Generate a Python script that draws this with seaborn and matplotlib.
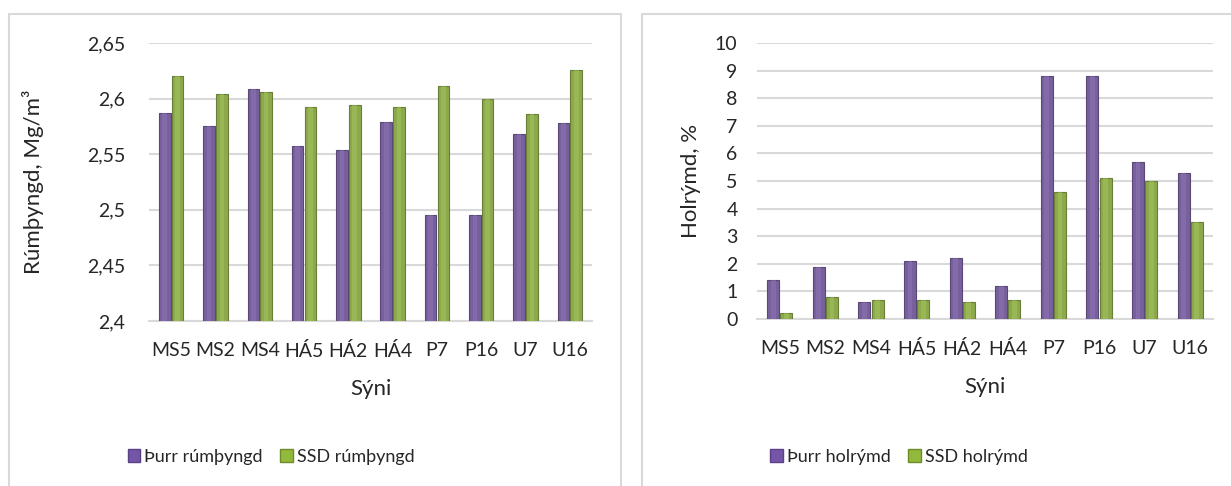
import numpy as np
import pandas as pd
import seaborn as sns
import matplotlib.pyplot as plt
from matplotlib.patches import Rectangle
from matplotlib.ticker import FixedLocator, FuncFormatter

# Samples and measured values
samples = ["MS5", "MS2", "MS4", "HÁ5", "HÁ2", "HÁ4", "P7", "P16", "U7", "U16"]
dry_density = [2.587, 2.575, 2.609, 2.557, 2.554, 2.579, 2.495, 2.495, 2.568, 2.578]
ssd_density = [2.620, 2.604, 2.606, 2.592, 2.594, 2.592, 2.611, 2.600, 2.586, 2.626]
dry_voids = [1.4, 1.9, 0.6, 2.1, 2.2, 1.2, 8.8, 8.8, 5.7, 5.3]
ssd_voids = [0.2, 0.8, 0.7, 0.7, 0.6, 0.7, 4.6, 5.1, 5.0, 3.5]

density_series = ["Þurr rúmþyngd", "SSD rúmþyngd"]
voids_series = ["Þurr holrýmd", "SSD holrýmd"]

density_ticks = [2.4, 2.45, 2.5, 2.55, 2.6, 2.65]
voids_ticks = list(range(0, 11))

PURPLE = "#7556A6"
GREEN = "#92B83C"
GRID = "#D9D9D9"
TEXT = "#262626"

sns.set_theme(style="white")
plt.rcParams["font.family"] = ["Lato", "DejaVu Sans"]

density_df = pd.DataFrame({
    "Sýni": samples * 2,
    "value": dry_density + ssd_density,
    "series": [density_series[0]] * len(samples) + [density_series[1]] * len(samples),
})
voids_df = pd.DataFrame({
    "Sýni": samples * 2,
    "value": dry_voids + ssd_voids,
    "series": [voids_series[0]] * len(samples) + [voids_series[1]] * len(samples),
})

fig = plt.figure(figsize=(12.31, 4.86), dpi=100)

# Panel frames
fig.patches.append(Rectangle((9 / 1231, -0.01), 612 / 1231, 1 - 14 / 486 + 0.01,
                             transform=fig.transFigure, fill=False,
                             edgecolor=GRID, linewidth=1.5))
fig.patches.append(Rectangle((642 / 1231, -0.01), 600 / 1231, 1 - 14 / 486 + 0.01,
                             transform=fig.transFigure, fill=False,
                             edgecolor=GRID, linewidth=1.5))

ax1 = fig.add_axes([149 / 1231, 1 - 321 / 486, 443 / 1231, 278 / 486])
ax2 = fig.add_axes([757 / 1231, 1 - 319 / 486, 456 / 1231, 276 / 486])


def comma(v, _pos):
    s = f"{v:.2f}".rstrip("0").rstrip(".")
    return s.replace(".", ",")


def draw(ax, df, order_series, ylim, ticks, fmt, ylabel, pad_y, ylabelpad):
    sns.barplot(data=df, x="Sýni", y="value", hue="series", hue_order=order_series,
                palette=[PURPLE, GREEN], width=0.58, gap=0.1, ax=ax,
                legend=False, zorder=3, edgecolor="none")
    # bevel-like darker edges and light highlight stripe on each bar
    for p in list(ax.patches):
        x, y = p.get_x(), p.get_y()
        w, h = p.get_width(), p.get_height()
        fc = p.get_facecolor()
        dark = tuple(c * 0.75 for c in fc[:3])
        light = tuple(min(1, c * 1.12 + 0.05) for c in fc[:3])
        p.set_edgecolor(dark)
        p.set_linewidth(0.8)
        ax.add_patch(Rectangle((x + w * 0.3, y), w * 0.4, h, facecolor=light,
                               edgecolor="none", alpha=0.45, zorder=4))
    ax.set_ylim(*ylim)
    ax.set_xlim(-0.5, len(samples) - 0.5)
    ax.yaxis.set_major_locator(FixedLocator(ticks))
    ax.yaxis.set_major_formatter(FuncFormatter(fmt))
    ax.grid(axis="y", color=GRID, linewidth=1.5, zorder=0)
    ax.set_axisbelow(True)
    for s in ["top", "right", "left"]:
        ax.spines[s].set_visible(False)
    ax.spines["bottom"].set_color(GRID)
    ax.spines["bottom"].set_linewidth(1.5)
    ax.tick_params(axis="both", length=0, labelsize=14, colors=TEXT)
    ax.tick_params(axis="y", pad=pad_y)
    ax.tick_params(axis="x", pad=15)
    ax.set_xlabel("Sýni", fontsize=16, color=TEXT, labelpad=14)
    ax.set_ylabel(ylabel, fontsize=16, color=TEXT, labelpad=ylabelpad)


draw(ax1, density_df, density_series, (2.4, 2.65), density_ticks, comma,
     "Rúmþyngd, Mg/m³", 17, 31)
draw(ax2, voids_df, voids_series, (0, 10), voids_ticks,
     lambda v, _p: f"{int(v)}", "Holrýmd, %", 14, 10)


def legend_for(ax, labels, cx):
    handles = [Rectangle((0, 0), 1, 1, facecolor=PURPLE, edgecolor="#5A4088"),
               Rectangle((0, 0), 1, 1, facecolor=GREEN, edgecolor="#6E8C2A")]
    fig.legend(handles, labels, loc="center", bbox_to_anchor=(cx / 1231, 1 - 457 / 486),
               ncol=2, frameon=False, fontsize=13, handlelength=0.7, handleheight=0.7,
               handletextpad=0.2, columnspacing=1.0, labelcolor=TEXT)


legend_for(ax1, density_series, 271)
legend_for(ax2, voids_series, 899)

fig.savefig("out.png", dpi=100, facecolor="white")
